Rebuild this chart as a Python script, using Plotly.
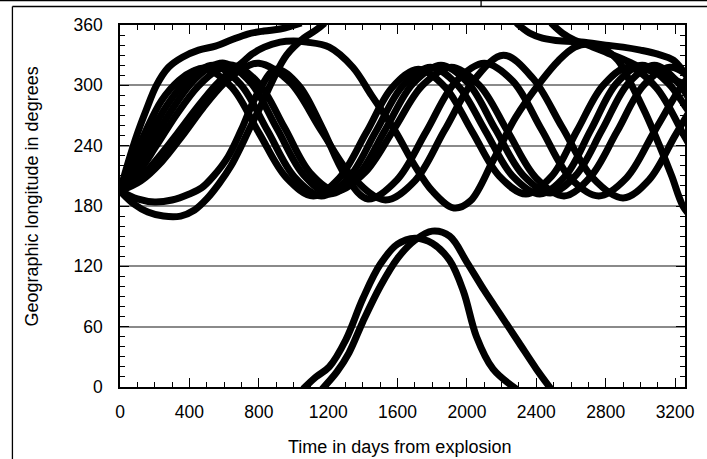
import plotly.graph_objects as go

# ---- data (days from explosion, geographic longitude deg) ----
days_t1 = [0, 50, 100, 150, 210, 280, 360, 453, 550, 640, 736, 830, 923, 990, 1045]
lon_t1 = [195, 225, 252, 275, 300, 318, 328, 335, 339, 345, 351, 354, 356, 359, 362]
days_l1 = [1055, 1130, 1206, 1302, 1400, 1500, 1600, 1700, 1800, 1900, 1980, 2055, 2150, 2285]
lon_l1 = [-2, 10, 20, 47, 88, 122, 142, 148, 143, 126, 95, 50, 18, -2]
days_u1 = [2285, 2360, 2435, 2550, 2660, 2800, 2900, 3000, 3100, 3190, 3255, 3300]
lon_u1 = [362, 352, 347, 344, 343, 340, 338, 335, 331, 325, 312, 300]

days_t3 = [0, 80, 160, 250, 350, 430, 500, 570, 640, 700, 750, 810, 880, 960, 1060, 1130, 1180]
lon_t3 = [195, 182, 174, 170, 170, 176, 187, 202, 220, 240, 258, 279, 305, 330, 347, 355, 362]
days_l2 = [1165, 1250, 1320, 1400, 1500, 1600, 1700, 1800, 1900, 2000, 2100, 2200, 2300, 2400, 2485]
lon_l2 = [-2, 15, 34, 65, 100, 128, 146, 155, 150, 124, 96, 70, 44, 18, -2]
days_u2 = [2485, 2550, 2620, 2700, 2813, 2900, 3000, 3100, 3200, 3300]
lon_u2 = [362, 352, 345, 340, 332, 326, 318, 312, 305, 298]

days_t2 = [0, 110, 220, 330, 440, 550, 630, 700, 760, 832, 923, 1000, 1076, 1206, 1342, 1450,
           1585, 1700, 1800, 1925, 2020, 2150, 2280, 2418, 2530, 2622, 2700, 2780, 2870, 2950,
           3030, 3110, 3180, 3245, 3300]
lon_t2 = [195, 207, 228, 252, 277, 300, 313, 322, 331, 338, 343, 344, 343, 338, 318, 290,
          255, 220, 195, 178, 185, 225, 268, 302, 325, 338, 341, 337, 325, 300,
          272, 240, 210, 180, 168]

days_a1 = [0, 70, 150, 240, 340, 420, 490, 645, 800, 960, 1115, 1265, 1420, 1570, 1720, 1875,
           2030, 2185, 2340, 2490, 2635, 2785, 2930, 3090, 3255, 3310]
lon_a1 = [195, 222, 255, 285, 305, 314, 317, 298, 253, 208, 190, 208, 253, 298, 316, 298,
          254, 210, 192, 210, 255, 300, 318, 298, 249, 232]

days_a2 = [0, 80, 170, 270, 380, 460, 540, 695, 850, 1005, 1160, 1318, 1475, 1632, 1790, 1947,
           2105, 2262, 2420, 2568, 2715, 2862, 3010, 3160, 3255, 3310]
lon_a2 = [195, 218, 250, 280, 304, 315, 320, 301, 255, 209, 190, 208, 254, 300, 318, 300,
          255, 210, 192, 210, 256, 302, 320, 302, 280, 265]

days_a3 = [0, 90, 190, 300, 410, 510, 600, 752, 905, 1058, 1210, 1370, 1530, 1690, 1850, 2008,
           2165, 2322, 2480, 2630, 2780, 2930, 3080, 3200, 3310]
lon_a3 = [195, 215, 245, 276, 302, 317, 322, 303, 257, 211, 192, 210, 256, 302, 320, 302,
          256, 211, 193, 211, 256, 302, 320, 306, 278]

days_a4 = [0, 100, 210, 330, 450, 560, 650, 800, 948, 1096, 1245, 1410, 1578, 1744, 1910, 2072,
           2235, 2398, 2560, 2712, 2865, 3018, 3170, 3255, 3320]
lon_a4 = [195, 212, 240, 272, 299, 315, 320, 302, 258, 213, 195, 213, 256, 300, 318, 300,
          254, 208, 190, 209, 254, 300, 318, 312, 300]

days_b1 = [0, 100, 200, 300, 400, 470, 540, 623, 700, 790, 900, 1030, 1165, 1300, 1430, 1597,
           1765, 1932, 2100, 2265, 2430, 2595, 2760, 2920, 3080, 3240, 3310]
lon_b1 = [195, 187, 184, 186, 192, 198, 210, 229, 256, 291, 316, 300, 258, 210, 187, 206,
          254, 303, 322, 304, 256, 208, 190, 208, 254, 300, 314]

days_b2 = [0, 120, 240, 360, 480, 600, 700, 800, 980, 1160, 1345, 1530, 1700, 1870, 2040, 2210,
           2380, 2550, 2725, 2900, 3050, 3200, 3310]
lon_b2 = [195, 205, 224, 250, 278, 302, 316, 322, 303, 255, 208, 186, 205, 255, 305, 330,
          307, 258, 208, 188, 206, 250, 282]

x_ticks = [0, 400, 800, 1200, 1600, 2000, 2400, 2800, 3200]
y_ticks = [0, 60, 120, 180, 240, 300, 360]

series = [
    (days_t1, lon_t1), (days_l1, lon_l1), (days_u1, lon_u1),
    (days_t3, lon_t3), (days_l2, lon_l2), (days_u2, lon_u2),
    (days_t2, lon_t2), (days_a1, lon_a1), (days_a2, lon_a2),
    (days_a3, lon_a3), (days_a4, lon_a4), (days_b1, lon_b1), (days_b2, lon_b2),
]

fig = go.Figure()
for d, l in series:
    fig.add_trace(go.Scatter(x=d, y=l, mode="lines",
                             line=dict(color="black", width=7, shape="spline", smoothing=1.0),
                             showlegend=False, hoverinfo="skip"))

FONT = "Liberation Sans, Arial, sans-serif"

fig.update_layout(
    width=707, height=459,
    margin=dict(l=120, r=12, t=25, b=72),
    paper_bgcolor="white", plot_bgcolor="white",
    font=dict(family=FONT, size=17.5, color="black"),
    showlegend=False,
)
fig.update_xaxes(
    range=[0, 3257], tickvals=x_ticks, ticktext=[str(v) for v in x_ticks],
    ticks="inside", ticklen=9, tickwidth=1.3, tickcolor="black",
    minor=dict(dtick=100, tick0=0, ticks="inside", ticklen=5, tickwidth=1.3, tickcolor="black", showgrid=False),
    showline=True, linecolor="black", linewidth=1.5, mirror="ticks",
    showgrid=False, zeroline=False, ticklabelstandoff=8,
)
fig.update_yaxes(
    range=[0, 360], tickvals=y_ticks, ticktext=[str(v) for v in y_ticks],
    ticks="inside", ticklen=9, tickwidth=1.3, tickcolor="black",
    minor=dict(dtick=10, tick0=0, ticks="inside", ticklen=5, tickwidth=1.3, tickcolor="black", showgrid=False),
    showline=True, linecolor="black", linewidth=1.5, mirror="ticks",
    showgrid=True, gridcolor="#8a8a8a", gridwidth=2, zeroline=False, ticklabelstandoff=12,
)

# axis titles
fig.add_annotation(text="Time in days from explosion", xref="paper", yref="paper",
                   x=0.494, y=-0.166, xanchor="center", yanchor="middle", showarrow=False,
                   font=dict(family=FONT, size=18))
fig.add_annotation(text="Geographic longitude in degrees", xref="paper", yref="paper",
                   x=-0.1565, y=0.525, xanchor="center", yanchor="middle", textangle=-90,
                   showarrow=False, font=dict(family=FONT, size=18))

# outer frame lines of the page
frame = dict(color="black", width=1.3)
fig.add_shape(type="line", xref="paper", yref="paper", x0=-0.1904, x1=-0.1904, y0=1.0511, y1=-0.3, line=frame)
fig.add_shape(type="line", xref="paper", yref="paper", x0=-0.1904, x1=1.1, y0=1.0511, y1=1.0511, line=frame)
fig.add_shape(type="line", xref="paper", yref="paper", x0=-0.3, x1=1.1, y0=1.0677, y1=1.0677, line=frame)
fig.add_shape(type="line", xref="paper", yref="paper", x0=0.6391, x1=0.6391, y0=1.0511, y1=1.0677, line=frame)

fig.write_html("out.html")
